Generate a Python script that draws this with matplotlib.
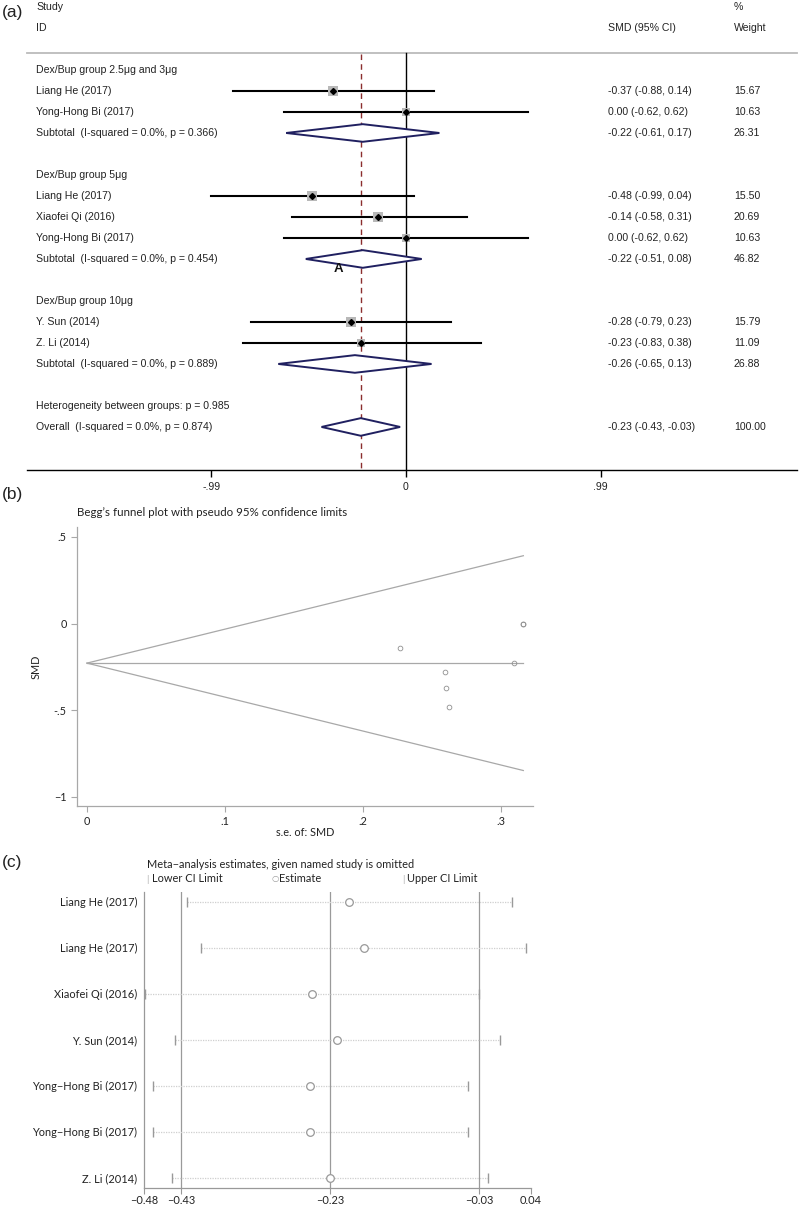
import matplotlib
matplotlib.use("Agg")
import matplotlib.pyplot as plt
import numpy as np

# ---------------- data ----------------
# (a) forest plot
group_titles = ["Dex/Bup group 2.5\u03bcg and 3\u03bcg", "Dex/Bup group 5\u03bcg", "Dex/Bup group 10\u03bcg"]
group_studies = [["Liang He (2017)", "Yong-Hong Bi (2017)"],
                 ["Liang He (2017)", "Xiaofei Qi (2016)", "Yong-Hong Bi (2017)"],
                 ["Y. Sun (2014)", "Z. Li (2014)"]]
study_smd = [-0.37, 0.00, -0.48, -0.14, 0.00, -0.28, -0.23]
study_lo = [-0.88, -0.62, -0.99, -0.58, -0.62, -0.79, -0.83]
study_hi = [0.14, 0.62, 0.04, 0.31, 0.62, 0.23, 0.38]
study_wt = [15.67, 10.63, 15.50, 20.69, 10.63, 15.79, 11.09]

sub_labels = ["Subtotal  (I-squared = 0.0%, p = 0.366)",
              "Subtotal  (I-squared = 0.0%, p = 0.454)",
              "Subtotal  (I-squared = 0.0%, p = 0.889)"]
sub_smd = [-0.22, -0.22, -0.26]
sub_lo = [-0.61, -0.51, -0.65]
sub_hi = [0.17, 0.08, 0.13]
sub_wt = [26.31, 46.82, 26.88]

het_label = "Heterogeneity between groups: p = 0.985"
overall_label = "Overall  (I-squared = 0.0%, p = 0.874)"
overall_smd, overall_lo, overall_hi, overall_wt = -0.23, -0.43, -0.03, 100.00
forest_ticks = [-0.99, 0, 0.99]
forest_ticklabels = ["-.99", "0", ".99"]

# (b) Begg's funnel plot
funnel_se = [0.260, 0.316, 0.262, 0.227, 0.316, 0.259, 0.309]
funnel_smd = [-0.37, 0.00, -0.48, -0.14, 0.00, -0.28, -0.23]
funnel_pooled = -0.228
funnel_max_se = 0.316

# (c) leave-one-out sensitivity
loo_names = ["Liang He (2017)", "Liang He (2017)", "Xiaofei Qi (2016)", "Y. Sun (2014)",
             "Yong\u2212Hong Bi (2017)", "Yong\u2212Hong Bi (2017)", "Z. Li (2014)"]
loo_est = [-0.204, -0.185, -0.254, -0.220, -0.257, -0.257, -0.230]
loo_lo = [-0.422, -0.403, -0.478, -0.438, -0.468, -0.468, -0.443]
loo_hi = [0.014, 0.033, -0.030, -0.002, -0.045, -0.045, -0.018]
loo_ref = [-0.43, -0.23, -0.03]
loo_ticks = [-0.48, -0.43, -0.23, -0.03, 0.04]

W, H = 800, 1209
fig = plt.figure(figsize=(W / 100, H / 100), dpi=100)

def fx(px):
    return px / W

def fy(py):
    return 1 - py / H

FA = "Liberation Sans"
FB = "Lato"
txt = "#222222"

# ================= (a) =================
ax = fig.add_axes([fx(27), fy(470), fx(797) - fx(27), fy(0) - fy(470)])
scale = 196.5
ax.set_xlim((27 - 406) / scale, (797 - 406) / scale)
ax.set_ylim(19.05, -3.333)
for s in ["top", "right", "left"]:
    ax.spines[s].set_visible(False)
ax.spines["bottom"].set_linewidth(1.0)
ax.set_yticks([])
ax.set_xticks(forest_ticks)
ax.set_xticklabels(forest_ticklabels, fontsize=7.6, family=FA, color=txt)
ax.tick_params(axis="x", direction="out", length=5, width=1, pad=4)

xt = (36 - 406) / scale
xs = (608 - 406) / scale
xw = (734 - 406) / scale
fs = 7.6

ax.text(xt, -3, "Study", fontsize=fs, family=FA, color=txt, va="center")
ax.text(xt, -2, "ID", fontsize=fs, family=FA, color=txt, va="center")
ax.text(xs, -2, "SMD (95% CI)", fontsize=fs, family=FA, color=txt, va="center")
ax.text(xw, -3, "%", fontsize=fs, family=FA, color=txt, va="center")
ax.text(xw, -2, "Weight", fontsize=fs, family=FA, color=txt, va="center")
ax.plot(ax.get_xlim(), [-0.81, -0.81], color="#bbbbbb", lw=1.3, clip_on=False)
ax.plot([0, 0], [-0.81, 19.05], color="black", lw=1.0)
ax.plot([overall_smd, overall_smd], [-0.75, 19.05], color="#8b2e2e", lw=1.0,
        dashes=(4, 3))

navy = "#202060"

def diamond(y, m, lo, hi):
    ax.fill([lo, m, hi, m, lo], [y, y - 0.42, y, y + 0.42, y], facecolor="white",
            edgecolor=navy, lw=1.4, zorder=4)

def fmt(m, lo, hi):
    return f"{m:.2f} ({lo:.2f}, {hi:.2f})"

row = 0
k = 0
for g, title in enumerate(group_titles):
    ax.text(xt, row, title, fontsize=fs, family=FA, color=txt, va="center")
    row += 1
    for name in group_studies[g]:
        m, lo, hi, w = study_smd[k], study_lo[k], study_hi[k], study_wt[k]
        ax.text(xt, row, name, fontsize=fs, family=FA, color=txt, va="center")
        ax.plot([lo, hi], [row, row], color="black", lw=1.5, zorder=3)
        ax.scatter([m], [row], marker="s", s=2.86 * w, color="#b8b8b8", zorder=4,
                   linewidths=0)
        ax.plot([m], [row], marker="D", ms=3, color="black", zorder=5)
        ax.text(xs, row, fmt(m, lo, hi), fontsize=fs, family=FA, color=txt, va="center")
        ax.text(xw, row, f"{w:.2f}", fontsize=fs, family=FA, color=txt, va="center")
        row += 1
        k += 1
    ax.text(xt, row, sub_labels[g], fontsize=fs, family=FA, color=txt, va="center")
    diamond(row, sub_smd[g], sub_lo[g], sub_hi[g])
    ax.text(xs, row, fmt(sub_smd[g], sub_lo[g], sub_hi[g]), fontsize=fs, family=FA,
            color=txt, va="center")
    ax.text(xw, row, f"{sub_wt[g]:.2f}", fontsize=fs, family=FA, color=txt, va="center")
    if g == 1:
        ax.text(-0.346, row + 0.5, "A", fontsize=9.5, family=FA, fontweight="bold",
                color="#111111", ha="center", va="center", zorder=6)
    row += 2

ax.text(xt, row, het_label, fontsize=fs, family=FA, color=txt, va="center")
row += 1
ax.text(xt, row, overall_label, fontsize=fs, family=FA, color=txt, va="center")
diamond(row, overall_smd, overall_lo, overall_hi)
ax.text(xs, row, fmt(overall_smd, overall_lo, overall_hi), fontsize=fs, family=FA,
        color=txt, va="center")
ax.text(xw, row, f"{overall_wt:.2f}", fontsize=fs, family=FA, color=txt, va="center")

fig.text(fx(2), fy(13), "(a)", fontsize=12.5, family=FA, color=txt, va="center")

# ================= (b) =================
gray = "#a8a8a8"
bx = fig.add_axes([fx(77), fy(806), fx(533) - fx(77), fy(527) - fy(806)])
bx.set_xlim(-0.0072, 0.323)
bx.set_ylim(-1.052, 0.557)
for s in ["top", "right"]:
    bx.spines[s].set_visible(False)
for s in ["left", "bottom"]:
    bx.spines[s].set_color(gray)
    bx.spines[s].set_linewidth(0.9)
bx.set_xticks([0, 0.1, 0.2, 0.3])
bx.set_xticklabels(["0", ".1", ".2", ".3"], fontsize=7.8, family=FB, color=txt)
bx.set_yticks([0.5, 0, -0.5, -1])
bx.set_yticklabels([".5", "0", "-.5", "\u22121"], fontsize=7.8, family=FB, color=txt)
bx.tick_params(colors=gray, labelcolor=txt, length=4, width=0.8)
bx.set_xlabel("s.e. of: SMD", fontsize=7.8, family=FB, color=txt, labelpad=0)
bx.set_ylabel("SMD", fontsize=7.8, family=FB, color=txt, labelpad=9)

se_line = np.array([0, funnel_max_se])
bx.plot(se_line, [funnel_pooled, funnel_pooled], color=gray, lw=0.9)
bx.plot(se_line, funnel_pooled + 1.96 * se_line, color=gray, lw=0.9)
bx.plot(se_line, funnel_pooled - 1.96 * se_line, color=gray, lw=0.9)
bx.plot(funnel_se, funnel_smd, "o", ms=3.4, mfc="none", mec="#909090", mew=0.6)

fig.text(fx(77), fy(513), "Begg\u2019s funnel plot with pseudo 95% confidence limits",
         fontsize=8.3, family=FB, color=txt, va="center")
fig.text(fx(2), fy(494), "(b)", fontsize=12.5, family=FA, color=txt, va="center")

# ================= (c) =================
cx = fig.add_axes([fx(144), fy(1188), fx(531) - fx(144), fy(892) - fy(1188)])
cx.set_xlim(-0.48, 0.04)
cx.set_ylim(0.776, 7.21)
for s in ["top", "right"]:
    cx.spines[s].set_visible(False)
for s in ["left", "bottom"]:
    cx.spines[s].set_color("#999999")
    cx.spines[s].set_linewidth(0.9)
ypos = np.arange(len(loo_names), 0, -1)
for v in loo_ref:
    cx.axvline(v, color="#9a9a9a", lw=0.9)
for y, lo, m, hi in zip(ypos, loo_lo, loo_est, loo_hi):
    cx.plot([lo, hi], [y, y], color="#cfcfcf", lw=0.9, ls=(0, (1, 1)))
cx.plot(loo_lo, ypos, "|", ms=7, color="#999999", mew=1)
cx.plot(loo_hi, ypos, "|", ms=7, color="#999999", mew=1)
cx.plot(loo_est, ypos, "o", ms=5.5, mfc="white", mec="#999999", mew=0.9)
cx.set_yticks(ypos)
cx.set_yticklabels(loo_names, fontsize=7.9, family=FB, color=txt)
cx.tick_params(axis="y", length=0, pad=5)
cx.set_xticks(loo_ticks)
cx.set_xticklabels([f"{t:.2f}".replace("-", "\u2212") for t in loo_ticks], fontsize=7.9,
                   family=FB, color=txt)
cx.tick_params(axis="x", colors="#999999", labelcolor=txt, length=4, width=0.8, pad=1)

fig.text(fx(147), fy(865), "Meta\u2212analysis estimates, given named study is omitted",
         fontsize=7.9, family=FB, color=txt, va="center")
fig.text(fx(146), fy(879), "|", fontsize=6.5, family=FB, color="#aaaaaa", va="center")
fig.text(fx(152), fy(879), "Lower CI Limit", fontsize=7.9, family=FB, color=txt, va="center")
fig.text(fx(271), fy(879), "\u25cb", fontsize=6, family="DejaVu Sans", color="#999999",
         va="center")
fig.text(fx(279), fy(879), "Estimate", fontsize=7.9, family=FB, color=txt, va="center")
fig.text(fx(402), fy(879), "|", fontsize=6.5, family=FB, color="#aaaaaa", va="center")
fig.text(fx(407), fy(879), "Upper CI Limit", fontsize=7.9, family=FB, color=txt, va="center")
fig.text(fx(2), fy(862), "(c)", fontsize=12.5, family=FA, color=txt, va="center")

fig.savefig("out.png", dpi=100)
